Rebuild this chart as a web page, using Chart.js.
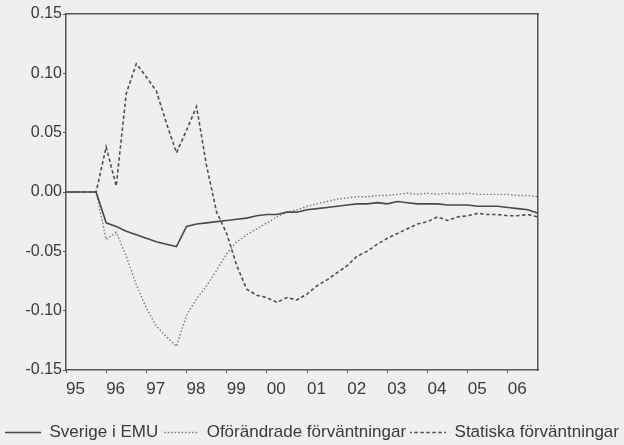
<!DOCTYPE html>
<html>
<head>
<meta charset="utf-8">
<script src="https://cdn.jsdelivr.net/npm/chart.js@4.4.1/dist/chart.umd.min.js"></script>
<style>
  html, body { margin: 0; padding: 0; background: #efefed; }
  canvas { display: block; }
</style>
</head>
<body>
<canvas id="chart" width="624" height="445"></canvas>
<script>
'use strict';

// quarterly observations 1995Q1 - 2006Q4
var years = ['95', '96', '97', '98', '99', '00', '01', '02', '03', '04', '05', '06'];
var quarters = ['Q1', 'Q2', 'Q3', 'Q4'];

var sverigeEMU = [
    0, 0, 0, 0, -0.026, -0.029, -0.033, -0.036, -0.039, -0.042, -0.044, -0.046,
    -0.029, -0.027, -0.026, -0.025, -0.024, -0.023, -0.022, -0.020, -0.019, -0.019, -0.017, -0.017,
    -0.015, -0.014, -0.013, -0.012, -0.011, -0.010, -0.010, -0.009, -0.010, -0.008, -0.009, -0.010,
    -0.010, -0.010, -0.011, -0.011, -0.011, -0.012, -0.012, -0.012, -0.013, -0.014, -0.015, -0.018
];
var oforandrade = [
    0, 0, 0, 0, -0.040, -0.034, -0.054, -0.078, -0.098, -0.113, -0.122, -0.130,
    -0.104, -0.090, -0.079, -0.066, -0.052, -0.042, -0.036, -0.031, -0.026, -0.021, -0.017, -0.015,
    -0.012, -0.010, -0.008, -0.006, -0.005, -0.004, -0.004, -0.003, -0.003, -0.002, -0.001, -0.002,
    -0.001, -0.002, -0.001, -0.002, -0.001, -0.002, -0.002, -0.002, -0.002, -0.003, -0.003, -0.004
];
var statiska = [
    0, 0, 0, 0, 0.038, 0.005, 0.083, 0.108, 0.097, 0.085, 0.058, 0.033,
    0.052, 0.072, 0.022, -0.017, -0.035, -0.062, -0.082, -0.087, -0.089, -0.093, -0.089, -0.091,
    -0.086, -0.079, -0.074, -0.068, -0.062, -0.054, -0.050, -0.044, -0.039, -0.035, -0.031, -0.027,
    -0.025, -0.021, -0.024, -0.021, -0.020, -0.018, -0.019, -0.019, -0.020, -0.020, -0.019, -0.021
];

var labels = [];
years.forEach(y => quarters.forEach(q => labels.push(y + q)));

var ink = '#3a3a3a';
var frame = '#555';
var swatch = 36;

// legend swatch is a zero-height rect stroked out and back; pick the dash
// phase so both passes land on the same dashes
function dashPhase(dash) {
    var period = dash[0] + dash[1];
    var o = (dash[0] - 2 * swatch) / 2;
    var half = period / 2;
    return ((o % half) + half) % half;
}

var dotDash = [1.5, 2];
var shortDash = [3.5, 2.5];

Chart.defaults.font.family = '"Liberation Sans", Arial, sans-serif';
Chart.defaults.color = ink;

var chart = new Chart(document.getElementById('chart'), {
    type: 'line',
    data: {
        labels: labels,
        datasets: [{
            label: 'Sverige i EMU',
            data: sverigeEMU,
            borderColor: '#4a4a4a',
            backgroundColor: 'transparent',
            borderWidth: 1.6
        }, {
            label: 'Oförändrade förväntningar',
            data: oforandrade,
            borderColor: '#7a7a7a',
            backgroundColor: 'transparent',
            borderWidth: 1.4,
            borderDash: dotDash,
            borderDashOffset: dashPhase(dotDash)
        }, {
            label: 'Statiska förväntningar',
            data: statiska,
            borderColor: '#505050',
            backgroundColor: 'transparent',
            borderWidth: 1.6,
            borderDash: shortDash,
            borderDashOffset: dashPhase(shortDash)
        }]
    },
    options: {
        responsive: false,
        animation: false,
        devicePixelRatio: 1,
        layout: { padding: { left: 0, right: 0, top: 0, bottom: -6 } },
        elements: { point: { radius: 0 }, line: { tension: 0 } },
        plugins: {
            tooltip: { enabled: false },
            legend: {
                position: 'bottom',
                labels: {
                    boxWidth: swatch,
                    boxHeight: 0,
                    padding: 4,
                    color: ink,
                    font: { size: 17 }
                }
            }
        },
        scales: {
            x: {
                type: 'category',
                offset: false,
                afterFit: s => { s.height = 50; },
                border: { display: true, color: frame, width: 1.5 },
                grid: {
                    drawOnChartArea: false,
                    drawTicks: true,
                    tickLength: 3,
                    tickColor: c => (c.index % 4 === 0 ? frame : 'transparent')
                },
                ticks: {
                    autoSkip: false,
                    maxRotation: 0,
                    align: 'start',
                    padding: 6,
                    font: { size: 17 },
                    callback: (v, i) => (i % 4 === 0 ? years[i / 4] : '')
                }
            },
            xTop: {
                type: 'category',
                position: 'top',
                afterFit: s => { s.height = 14; },
                border: { display: true, color: frame, width: 1.5 },
                grid: { display: false },
                ticks: { display: false }
            },
            y: {
                min: -0.15,
                max: 0.15,
                afterFit: s => { s.width = 66; },
                border: { display: true, color: frame, width: 1.5 },
                grid: { drawOnChartArea: false, tickLength: 3, tickColor: frame },
                ticks: {
                    stepSize: 0.05,
                    padding: 1,
                    font: { size: 16 },
                    callback: v => (Math.round(v * 100) / 100).toFixed(2)
                }
            },
            yRight: {
                position: 'right',
                afterFit: s => { s.width = 86; },
                border: { display: true, color: frame, width: 1.5 },
                grid: { display: false },
                ticks: { display: false }
            }
        }
    }
});
</script>
</body>
</html>
